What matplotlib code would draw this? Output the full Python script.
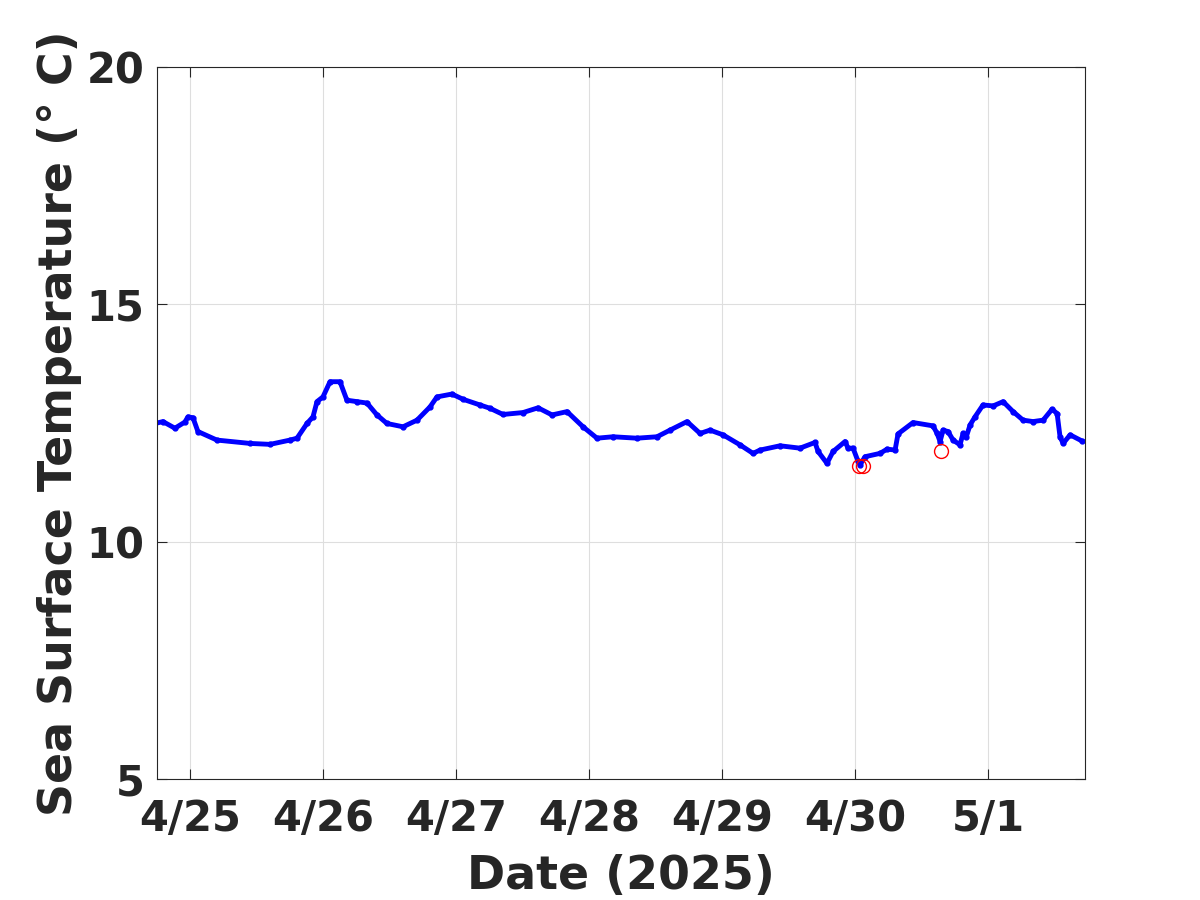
"""
Sea surface temperature time series, 4/25 - 5/1 2025.
Blue: SST record | Red circles: flagged points
"""

import datetime as dt

import matplotlib
matplotlib.use("Agg")
import matplotlib.dates as mdates
import matplotlib.pyplot as plt
import matplotlib.ticker as mticker
import numpy as np

# days since 2025-04-25 00:00
days = [
    -0.263, -0.203, -0.113, -0.038, -0.015, 0.023, 0.060, 0.203, 0.451, 0.602,
    0.752, 0.805, 0.880, 0.925, 0.955, 1.000, 1.053, 1.128, 1.180, 1.256,
    1.331, 1.406, 1.481, 1.602, 1.707, 1.805, 1.857, 1.970, 2.053, 2.180,
    2.256, 2.353, 2.504, 2.617, 2.722, 2.835, 2.955, 3.060, 3.180, 3.361,
    3.511, 3.609, 3.737, 3.835, 3.910, 4.008, 4.135, 4.233, 4.286, 4.436,
    4.586, 4.699, 4.722, 4.789, 4.835, 4.925, 4.947, 4.985, 5.023, 5.038,
    5.075, 5.188, 5.241, 5.301, 5.323, 5.436, 5.586, 5.617, 5.639, 5.662,
    5.699, 5.737, 5.789, 5.812, 5.835, 5.865, 5.902, 5.962, 6.038, 6.113,
    6.188, 6.263, 6.338, 6.414, 6.481, 6.519, 6.541, 6.564, 6.617, 6.707,
]
sst = [
    12.49, 12.53, 12.39, 12.52, 12.63, 12.61, 12.32, 12.14, 12.07, 12.05,
    12.14, 12.18, 12.49, 12.63, 12.95, 13.05, 13.37, 13.37, 12.98, 12.95,
    12.92, 12.67, 12.49, 12.42, 12.56, 12.84, 13.05, 13.11, 13.00, 12.88,
    12.81, 12.68, 12.72, 12.82, 12.67, 12.74, 12.42, 12.18, 12.21, 12.18,
    12.21, 12.35, 12.53, 12.28, 12.35, 12.25, 12.04, 11.86, 11.93, 12.02,
    11.97, 12.09, 11.90, 11.65, 11.90, 12.11, 11.97, 11.97, 11.69, 11.62,
    11.79, 11.86, 11.95, 11.93, 12.27, 12.51, 12.44, 12.28, 12.11, 12.35,
    12.32, 12.14, 12.04, 12.28, 12.20, 12.46, 12.63, 12.88, 12.86, 12.95,
    12.74, 12.56, 12.53, 12.56, 12.79, 12.70, 12.21, 12.07, 12.25, 12.12,
]

# flagged points
flag_days = [5.030, 5.060, 5.647]
flag_sst = [11.60, 11.60, 11.92]

tick_days = [0, 1, 2, 3, 4, 5, 6]
x_lim = (-0.248, 6.729)
y_ticks = [5, 10, 15, 20]

TXT = "#262626"

base = mdates.date2num(dt.datetime(2025, 4, 25))
t = base + np.array(days)
tf = base + np.array(flag_days)

fig = plt.figure(figsize=(12, 9), dpi=100)
ax = fig.add_axes([0.1308, 0.1344, 0.7734, 0.7912])

ax.plot(t, sst, "-", color="blue", linewidth=3.5, marker=".", markersize=7)
ax.plot(tf, flag_sst, "o", color="red", markerfacecolor="none",
        markersize=10, markeredgewidth=1.0)

ax.set_xlim(base + x_lim[0], base + x_lim[1])
ax.set_ylim(5, 20)
ax.set_yticks(y_ticks)
ax.xaxis.set_major_locator(mticker.FixedLocator(base + np.array(tick_days)))
ax.xaxis.set_major_formatter(mticker.FuncFormatter(
    lambda v, pos: f"{mdates.num2date(v).month}/{mdates.num2date(v).day}"))

ax.grid(True, color="#dedede", linewidth=0.8)
ax.set_axisbelow(True)
ax.tick_params(direction="in", length=7, width=0.8, colors=TXT,
               top=True, right=True, labelsize=30)
ax.tick_params(axis="x", pad=14)
ax.tick_params(axis="y", pad=9)
for lab in ax.get_xticklabels() + ax.get_yticklabels():
    lab.set_fontweight("bold")
for sp in ax.spines.values():
    sp.set_color(TXT)
    sp.set_linewidth(0.8)

ax.set_xlabel("Date (2025)", fontsize=33, fontweight="bold", color=TXT, labelpad=10)
ax.set_ylabel("Sea Surface Temperature (° C)", fontsize=33,
              fontweight="bold", color=TXT, labelpad=3)

fig.savefig("out.png", dpi=100)
